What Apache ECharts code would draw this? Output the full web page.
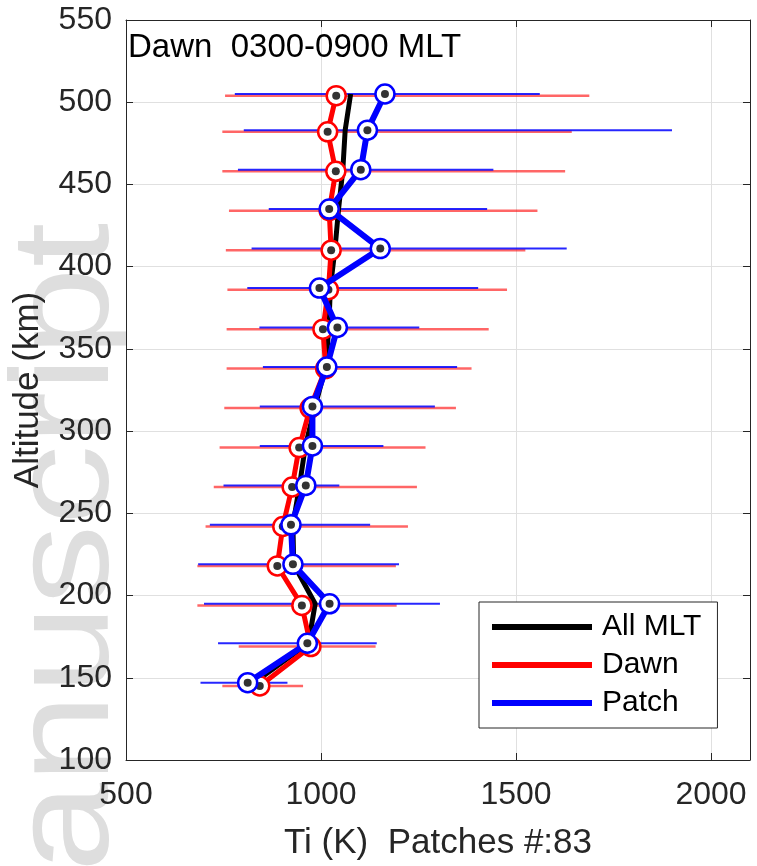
<!DOCTYPE html>
<html><head><meta charset="utf-8">
<script src="https://cdn.jsdelivr.net/npm/echarts@6/dist/echarts.min.js"></script>
<style>html,body{margin:0;padding:0;background:#fff}#c{width:757px;height:866px}</style>
</head><body><div id="c"></div>
<script>
// ---- data ----
const altitudes     = [505, 483, 459, 435, 411, 387, 363, 339, 315, 291, 267, 243, 219, 195, 171, 147];
const dawnAltitudes = [504, 482, 458, 434, 410, 386, 362, 338, 314, 290, 266, 242, 218, 194, 169, 145];
const allMLT = [1076, 1062, 1056, 1045, 1036, 1024, 1020, 1012, 985, 960, 945, 928, 930, 985, 968, 828];
const dawn   = [1039, 1017, 1038, 1021, 1026, 1019, 1005, 1012, 972, 944, 926, 902, 888, 951, 974, 843];
const patch  = [1164, 1119, 1102, 1021, 1152, 996, 1042, 1015, 978, 978, 961, 923, 928, 1022, 965, 812];
const dawnLow   = [754, 747, 747, 764, 756, 760, 758, 758, 752, 740, 725, 704, 683, 683, 789, 747];
const dawnHigh  = [1688, 1643, 1626, 1555, 1524, 1477, 1430, 1386, 1346, 1268, 1246, 1223, 1192, 1194, 1140, 954];
const patchLow  = [779, 802, 787, 866, 822, 811, 842, 851, 843, 843, 750, 715, 685, 700, 736, 691];
const patchHigh = [1561, 1900, 1442, 1426, 1630, 1403, 1252, 1349, 1292, 1160, 1047, 1126, 1200, 1305, 1143, 914];
const xTicks = [500, 1000, 1500, 2000];
const xMax = 2100;
const yTicks = [100, 150, 200, 250, 300, 350, 400, 450, 500, 550];
const seriesNames = ['All MLT', 'Dawn', 'Patch'];
const titleText = 'Dawn  0300-0900 MLT';
const xName = 'Ti (K)  Patches #:83';
const yName = 'Altitude (km)';
const watermark = 'anuscript';

// ---- chart ----
const FONT = 'Liberation Sans, Arial, Helvetica, sans-serif';
const AX = '#262626';
const chart = echarts.init(document.getElementById('c'), null, {renderer: 'canvas'});

function errSeries(low, high, alts, color, width, z) {
  return {
    type: 'custom', silent: true, z: z,
    data: alts.map((a, i) => [low[i], high[i], a]),
    encode: {x: [0, 1], y: 2},
    renderItem: (params, api) => {
      const p1 = api.coord([api.value(0), api.value(2)]);
      const p2 = api.coord([api.value(1), api.value(2)]);
      return {type: 'line', shape: {x1: p1[0], y1: p1[1], x2: p2[0], y2: p2[1]},
              style: {stroke: color, lineWidth: width}};
    }
  };
}
function lineSeries(name, vals, alts, color, width, z, withMarkers) {
  return {
    type: 'line', name: name, z: z, silent: true,
    data: alts.map((a, i) => [vals[i], a]),
    symbol: withMarkers ? 'circle' : 'none',
    symbolSize: 19,
    itemStyle: {color: '#fff', borderColor: color, borderWidth: 2.5},
    lineStyle: {color: color, width: width},
    animation: false
  };
}
function dotSeries(vals, alts, z) {
  return {
    type: 'scatter', silent: true, z: z,
    data: alts.map((a, i) => [vals[i], a]),
    symbolSize: 8, itemStyle: {color: '#000'}, animation: false
  };
}

const xAxisBase = {
  type: 'value', min: xTicks[0], max: xMax, interval: xTicks[1] - xTicks[0],
  axisLine: {show: true, onZero: false, lineStyle: {color: AX, width: 1}},
  axisTick: {show: true, inside: true, length: 7, lineStyle: {color: AX}},
};
const yAxisBase = {
  type: 'value', min: yTicks[0], max: yTicks[yTicks.length - 1], interval: yTicks[1] - yTicks[0],
  axisLine: {show: true, onZero: false, lineStyle: {color: AX, width: 1}},
  axisTick: {show: true, inside: true, length: 7, lineStyle: {color: AX}},
};

chart.setOption({
  animation: false,
  backgroundColor: '#fff',
  textStyle: {fontFamily: FONT},
  grid: {left: 126, top: 20, right: 7, bottom: 105, containLabel: false,
         show: true, backgroundColor: '#fff', borderWidth: 0},
  graphic: [
    {type: 'text', silent: true, z: -10, x: 139, y: 872, rotation: Math.PI / 2, scaleX: 1, scaleY: 0.87,
     style: {text: watermark, font: '160px ' + FONT, fontSize: 160, fontFamily: FONT, fill: '#dedede',
             textAlign: 'left', textVerticalAlign: 'bottom', align: 'left', verticalAlign: 'bottom'}},
    {type: 'text', silent: true, z: 100, x: 128, y: 48,
     style: {text: titleText, fontSize: 33, fontFamily: FONT, fill: '#000',
             textAlign: 'left', textVerticalAlign: 'middle', align: 'left', verticalAlign: 'middle'}}
  ],
  legend: {
    show: true, orient: 'vertical', left: 479, top: 602,
    padding: [10, 16, 10, 13], itemGap: 8, itemWidth: 100, itemHeight: 6,
    backgroundColor: '#fff', borderColor: AX, borderWidth: 1, borderRadius: 0,
    textStyle: {fontSize: 30, color: '#000', fontFamily: FONT, lineHeight: 30, padding: [0, 0, 0, 5]},
    itemStyle: {borderWidth: 0},
    selectedMode: false,
    data: [
      {name: seriesNames[0], icon: 'rect', itemStyle: {color: '#000', borderWidth: 0}},
      {name: seriesNames[1], icon: 'rect', itemStyle: {color: '#ff0000', borderWidth: 0}},
      {name: seriesNames[2], icon: 'rect', itemStyle: {color: '#0000ff', borderWidth: 0}}
    ],
    z: 50
  },
  xAxis: [
    Object.assign({}, xAxisBase, {
      position: 'bottom',
      axisLabel: {show: true, fontSize: 32, color: AX, fontFamily: FONT, margin: 19,
                  showMaxLabel: false, formatter: v => (xTicks.indexOf(v) >= 0 ? String(v) : '')},
      splitLine: {show: true, lineStyle: {color: '#e0e0e0', width: 1}},
      name: xName, nameLocation: 'middle', nameGap: 66,
      nameTextStyle: {fontSize: 35, color: AX, fontFamily: FONT}
    }),
    Object.assign({}, xAxisBase, {position: 'top', axisLabel: {show: false}, splitLine: {show: false}})
  ],
  yAxis: [
    Object.assign({}, yAxisBase, {
      position: 'left',
      axisLabel: {show: true, fontSize: 32, color: AX, fontFamily: FONT, margin: 14},
      splitLine: {show: true, lineStyle: {color: '#e0e0e0', width: 1}},
      name: yName, nameLocation: 'middle', nameGap: 80,
      nameTextStyle: {fontSize: 35, color: AX, fontFamily: FONT}
    }),
    Object.assign({}, yAxisBase, {position: 'right', axisLabel: {show: false}, splitLine: {show: false}})
  ],
  series: [
    errSeries(dawnLow, dawnHigh, dawnAltitudes, 'rgba(255,0,0,0.6)', 2.5, 2),
    errSeries(patchLow, patchHigh, altitudes, 'rgba(0,0,255,0.85)', 2, 3),
    lineSeries(seriesNames[0], allMLT, altitudes, '#000', 5, 4, false),
    lineSeries(seriesNames[1], dawn, dawnAltitudes, '#ff0000', 5, 5, true),
    dotSeries(dawn, dawnAltitudes, 6),
    lineSeries(seriesNames[2], patch, altitudes, '#0000ff', 6, 7, true),
    dotSeries(patch, altitudes, 8)
  ]
});
</script></body></html>
